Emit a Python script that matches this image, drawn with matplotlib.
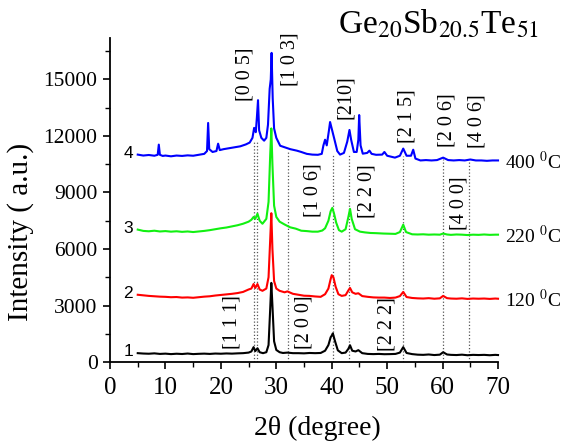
import matplotlib
matplotlib.use('Agg')
import matplotlib.pyplot as plt
from matplotlib.ticker import MultipleLocator

plt.rcParams['mathtext.fontset'] = 'stix'

# XRD patterns (2theta in degrees, intensity in a.u.)
x1 = [5, 6, 7, 8, 9, 10, 11, 12, 13, 14, 15, 16, 17, 18, 19, 20, 21, 22, 23, 24, 25, 25.5,
      25.9, 26.2, 26.6, 27.0, 27.6, 28.2, 28.6, 28.9, 29.1, 29.3, 29.6, 30.0, 30.6, 31.2, 32,
      33, 34, 35, 36, 37, 38, 38.8, 39.4, 39.8, 40.0, 40.2, 40.6, 41.1, 41.8, 42.5, 43.0, 43.3,
      43.7, 44.3, 44.8, 45.5, 46.5, 47.5, 48.5, 49.5, 50.5, 51.5, 52.3, 52.9, 53.5, 54.5, 55.5,
      56.5, 57.5, 58.5, 59.5, 60.1, 60.8, 61.5, 62.5, 63.5, 64.5, 65.5, 66.5, 67.5, 68.5, 69.5, 70]
y1 = [470, 450, 440, 460, 430, 445, 420, 440, 425, 450, 420, 435, 445, 430, 450, 440, 455, 445,
      460, 470, 500, 560, 790, 580, 730, 520, 470, 520, 900, 2830, 4200, 3000, 1100, 640, 520,
      480, 500, 470, 470, 460, 480, 470, 480, 600, 900, 1310, 1400, 1520, 1100, 620, 470, 500,
      700, 890, 600, 560, 630, 470, 430, 420, 430, 415, 420, 430, 500, 790, 480, 420, 390, 380,
      400, 370, 390, 520, 400, 380, 370, 390, 360, 380, 370, 380, 360, 380, 370]

x2 = [5, 6, 7, 8, 9, 10, 11, 12, 13, 14, 15, 16, 17, 18, 19, 20, 21, 22, 23, 24, 25, 25.5,
      25.9, 26.2, 26.6, 27.0, 27.5, 28.2, 28.6, 28.9, 29.1, 29.3, 29.6, 30.0, 30.6, 31.5, 32,
      33, 34, 35, 36, 37, 38, 38.8, 39.4, 39.8, 40.0, 40.3, 40.7, 41.2, 41.8, 42.5, 43.0, 43.3,
      43.7, 44.3, 44.8, 45.5, 46.5, 47.5, 48.5, 49.5, 50.5, 51.5, 52.3, 52.9, 53.5, 54.5, 55.5,
      56.5, 57.5, 58.5, 59.5, 60.1, 60.8, 61.5, 62.5, 63.5, 64.5, 65.5, 66.5, 67.5, 68.5, 69.5, 70]
y2 = [3570, 3540, 3510, 3490, 3470, 3460, 3440, 3450, 3420, 3430, 3410, 3440, 3470, 3490, 3530,
      3560, 3590, 3620, 3660, 3720, 3850, 3900, 4140, 3930, 4140, 3850, 3780, 3900, 4500, 6500,
      7900, 6000, 4300, 3900, 3780, 3700, 3750, 3620, 3570, 3520, 3510, 3480, 3460, 3600, 3900,
      4400, 4610, 4500, 4000, 3600, 3510, 3550, 3800, 3930, 3700, 3620, 3650, 3500, 3460, 3430,
      3420, 3420, 3400, 3420, 3500, 3720, 3450, 3400, 3380, 3370, 3390, 3360, 3380, 3510, 3390,
      3370, 3360, 3380, 3350, 3370, 3360, 3370, 3350, 3370, 3360]

x3 = [5, 6, 7, 8, 9, 10, 11, 12, 13, 14, 15, 16, 17, 18, 19, 20, 21, 22, 23, 24, 25, 25.5,
      25.9, 26.2, 26.6, 27.0, 27.5, 28.2, 28.6, 28.9, 29.1, 29.3, 29.6, 30.0, 30.6, 31.5, 32.5,
      33.5, 34.5, 35.5, 36.5, 37.5, 38.3, 38.8, 39.4, 39.8, 40.1, 40.4, 40.8, 41.3, 41.8, 42.5,
      43.0, 43.3, 43.6, 44.2, 45.1, 46.0, 47.0, 48.0, 49.3, 50.5, 51.5, 52.3, 52.9, 53.4, 54.5,
      55.5, 56.5, 57.5, 58.5, 59.5, 60.1, 60.8, 61.5, 62.5, 63.5, 64.5, 65.5, 66.5, 67.5, 68.5,
      69.5, 70]
y3 = [7030, 6960, 6940, 6970, 6930, 6950, 6920, 6940, 6910, 6930, 6900, 6930, 6960, 7000,
      7050, 7100, 7140, 7200, 7260, 7340, 7450, 7550, 7700, 7600, 7870, 7500, 7340, 7600, 8500,
      11000, 12400, 10500, 8300, 7700, 7450, 7300, 7150, 7080, 6970, 6950, 6920, 6920, 6980,
      7100, 7500, 8000, 8180, 7900, 7400, 7000, 6920, 7050, 7700, 8130, 7600, 7050, 6920, 6880,
      6850, 6840, 6820, 6810, 6800, 6900, 7290, 6900, 6780, 6770, 6780, 6760, 6770, 6760, 6820,
      6770, 6750, 6770, 6760, 6740, 6760, 6750, 6770, 6750, 6760, 6760]

x4 = [5, 6, 7, 8, 8.6, 8.8, 9.0, 9.5, 10, 11, 12, 13, 14, 15, 16, 17, 17.5, 17.7, 17.9, 18.5,
      19.2, 19.5, 19.8, 20.5, 21.5, 22.5, 23.5, 24.5, 25.2, 25.7, 26.0, 26.3, 26.5, 26.7, 26.9,
      27.3, 27.8, 28.2, 28.5, 28.8, 29.0, 29.15, 29.35, 29.6, 30.0, 30.7, 31.5, 32.5, 33.7, 34.5,
      35.5, 36.5, 37.5, 38.2, 38.5, 38.8, 39.1, 39.5, 39.7, 40.1, 40.5, 41.0, 41.5, 42.2, 42.8,
      43.2, 43.5, 44.0, 44.5, 44.8, 44.95, 45.2, 45.6, 46.4, 46.8, 47.2, 48, 49.1, 49.5, 50,
      51.4, 52.3, 52.9, 53.5, 54.3, 54.7, 55.1, 56, 57, 58, 59, 60.1, 61, 62, 63, 64, 65, 66,
      67, 68, 69, 70]
y4 = [11010, 10960, 10990, 10950, 11000, 11540, 11000, 10940, 10960, 10920, 10960, 10940,
      10970, 10950, 11000, 11050, 11200, 12690, 11300, 11150, 11200, 11590, 11250, 11300, 11350,
      11400, 11450, 11550, 11650, 11900, 12430, 12200, 13000, 13900, 12300, 11900, 11750, 11900,
      12600, 14500, 15000, 16410, 14000, 12400, 11900, 11480, 11400, 11300, 11220, 11150, 11050,
      11010, 11000, 11050, 11500, 11800, 11500, 12300, 12740, 12270, 11800, 11200, 11010, 11100,
      11700, 12320, 11800, 11150, 11150, 11800, 13110, 11500, 11060, 11100, 11220, 11050, 11000,
      11010, 11150, 10950, 10850, 10950, 11330, 10950, 10950, 11270, 10800, 10700, 10720, 10700,
      10720, 10850, 10720, 10700, 10720, 10700, 10750, 10700, 10700, 10680, 10700, 10700]

curve_names = ['1', '2', '3', '4']
curve_colors = ['black', 'red', '#11f011', 'blue']
temps = ['120 $^{0}$C', '220 $^{0}$C', '400 $^{0}$C']

# reference peak positions (dotted lines) and their top ends
ref_pos = [25.9, 26.6, 32.1, 40.2, 43.1, 52.9, 60.1, 64.8]
ref_top = [11700, 11700, 11250, 11000, 11000, 10950, 10800, 10750]

# (hkl) labels: text, 2theta, intensity
hkl_top = [('[0 0 5]', 24.4, 15300), ('[1 0 3]', 32.5, 16100), ('[210]', 42.4, 14050),
           ('[2 1 5]', 53.6, 13060), ('[2 0 6]', 60.8, 12850), ('[4 0 6]', 66.2, 12790)]
hkl_mid = [('[1 0 6]', 36.6, 9120), ('[2 2 0]', 46.3, 9070), ('[4 0 0]', 62.9, 8440)]
hkl_low = [('[1 1 1]', 22.0, 2100), ('[2 0 0]', 35.0, 2100), ('[2 2 2]', 50.0, 2000)]

fig = plt.figure(figsize=(5.68, 4.46), dpi=100)
ax = fig.add_axes([0.1937, 0.1883, 0.6831, 0.7265])

ax.vlines(ref_pos, 0, ref_top, colors='#555555', linestyles=':', linewidth=0.9, zorder=1)

for xs, ys, c in zip([x1, x2, x3, x4], [y1, y2, y3, y4], curve_colors):
    ax.plot(xs, ys, color=c, lw=1.5, clip_on=False, zorder=2)

serif = 'Liberation Serif'
for lab, xx, yy in hkl_top + hkl_mid + hkl_low:
    ax.text(xx, yy, lab, rotation=90, ha='center', va='center', fontsize=14.5, family=serif)

for name, ys in zip(curve_names, [y1, y2, y3, y4]):
    ax.text(3.3, ys[0] + 80, name, ha='center', va='center', fontsize=12.5, family='Liberation Sans')

for t, ys in zip(temps, [y2, y3, y4]):
    ax.text(71.2, ys[-1] - 60, t, ha='left', va='center', fontsize=14, family=serif)

fig.text(0.595, 0.945, r'Ge$_{20}$Sb$_{20.5}$Te$_{51}$', fontsize=24, family=serif,
         ha='left', va='center')

ax.set_xlim(0, 70)
ax.set_ylim(0, 17200)
ax.xaxis.set_major_locator(MultipleLocator(10))
ax.xaxis.set_minor_locator(MultipleLocator(5))
ax.yaxis.set_major_locator(MultipleLocator(3000))
ax.yaxis.set_minor_locator(MultipleLocator(1500))
ax.spines['top'].set_visible(False)
ax.spines['right'].set_visible(False)
ax.spines['left'].set_linewidth(1.3)
ax.spines['bottom'].set_linewidth(1.3)
ax.tick_params(which='major', direction='out', length=5, width=1.2)
ax.tick_params(which='minor', direction='out', length=3.5, width=1.0)
ax.tick_params(axis='x', labelsize=18, pad=6)
ax.tick_params(axis='y', labelsize=15.5, pad=4)
for lbl in ax.get_xticklabels() + ax.get_yticklabels():
    lbl.set_family(serif)

ax.set_xlabel('2θ (degree)', fontsize=20, family=serif)
ax.set_ylabel('Intensity ( a.u.)', fontsize=21, family=serif)
ax.xaxis.set_label_coords(0.534, -0.165)
ax.yaxis.set_label_coords(-0.195, 0.40)

fig.savefig('out.png', dpi=100)
